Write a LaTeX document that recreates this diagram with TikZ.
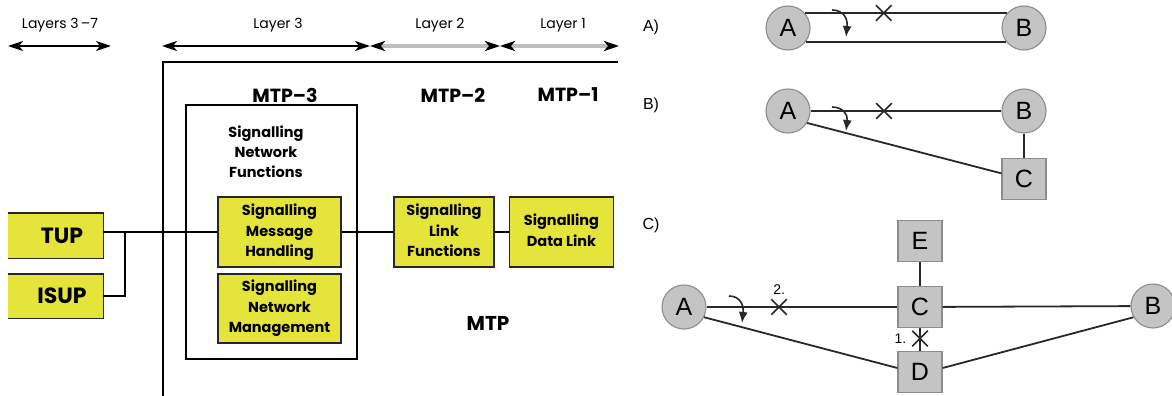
\documentclass[tikz,border=0pt]{standalone}
\usepackage{fontspec}
\setmainfont{Liberation Sans}
\newfontfamily\pop{Poppins}
\usetikzlibrary{arrows.meta,shapes.misc,calc}
\definecolor{sigyellow}{RGB}{229,228,58}
\definecolor{nodegray}{RGB}{196,196,196}
\definecolor{nodeedge}{RGB}{140,140,140}
\definecolor{laygray}{RGB}{190,190,190}
\definecolor{linedark}{RGB}{40,40,40}
\begin{document}
\begin{tikzpicture}[x=1pt,y=-1pt,
  ybox/.style={draw=black!85,line width=1.4pt,fill=sigyellow,inner sep=0pt,align=center,
    font=\pop\bfseries\fontsize{14.5}{20.5}\selectfont},
  yfill/.style={fill=sigyellow,inner sep=0pt,align=center,
    font=\pop\bfseries\fontsize{22}{22}\selectfont},
  ttl/.style={font=\pop\bfseries\fontsize{19}{20}\selectfont,inner sep=0pt},
  laytxt/.style={font=\pop\fontsize{14}{15}\selectfont,inner sep=0pt},
  sigtxt/.style={font=\pop\bfseries\fontsize{14.5}{20}\selectfont,align=center,inner sep=0pt},
  tipb/.tip={Stealth[length=15pt,width=10pt,inset=4pt,color=black]},
  layblack/.style={draw=black,line width=1.5pt,tipb-tipb},
  laylight/.style={draw=laygray,line width=4pt,tipb-tipb},
  frame/.style={draw=black,line width=1.8pt},
  wire/.style={draw=black,line width=1.5pt},
  circ/.style={circle,draw=nodeedge,line width=1.1pt,fill=nodegray,minimum size=44pt,inner sep=0pt,
    font=\fontsize{25}{25}\selectfont},
  sq/.style={rectangle,draw=nodeedge,line width=1.1pt,fill=nodegray,minimum width=44pt,minimum height=41pt,inner sep=0pt,
    font=\fontsize{25}{25}\selectfont},
  conn/.style={draw=linedark,line width=1.8pt},
  crossmark/.style={cross out,draw=linedark,line width=1.6pt,minimum size=14pt,inner sep=0pt},
  lbl/.style={font=\fontsize{16}{18}\selectfont,inner sep=0pt},
  numlbl/.style={font=\fontsize{14}{16}\selectfont,inner sep=0pt},
  turn/.style={draw=linedark,line width=1.6pt,-{Latex[length=11pt,width=9pt]}}
]
\useasboundingbox (0,0) rectangle (1172,396);

% ---------------- left panel ----------------
% layer arrows
\coordinate (l7a) at (8,46);   \coordinate (l7b) at (111,46);
\coordinate (l3a) at (162,46); \coordinate (l3b) at (370,46);
\coordinate (l2a) at (370,46); \coordinate (l2b) at (500,46);
\coordinate (l1a) at (500,46); \coordinate (l1b) at (619,46);
\draw[laylight] (l2a) -- (l2b);
\draw[laylight] (l1a) -- (l1b);
\draw[layblack] (l7a) -- (l7b);
\draw[layblack] (l3a) -- (l3b);
\node[laytxt] (t7) at (60,25) {Layers 3\,–7};
\node[laytxt] (t3) at (278,25) {Layer 3};
\node[laytxt] (t2) at (440,25) {Layer 2};
\node[laytxt] (t1) at (563,25) {Layer 1};

% frame
\coordinate (fb) at (163,397);
\coordinate (fc) at (163,62);
\coordinate (fr) at (618,62);
\draw[frame] (fb) -- (fc) -- (fr);

\node[ttl] (m3) at (285,95) {MTP–3};
\node[ttl] (m2) at (453,95) {MTP–2};
\node[ttl] (m1) at (568,95) {MTP–1};

% MTP-3 container
\node[draw=black,line width=1.4pt,minimum width=171pt,minimum height=254pt,inner sep=0pt] (box3) at (271.5,232) {};
\node[sigtxt] (snf) at (266,152) {Signalling\\Network\\Functions};

% yellow boxes
\node[ybox,minimum width=123pt,minimum height=70pt] (smh) at (279.5,232) {\raisebox{-3pt}{\begin{tabular}{@{}c@{}}Signalling\\Message\\Handling\end{tabular}}};
\node[ybox,minimum width=123pt,minimum height=69pt] (snm) at (279.5,308.5) {Signalling\\Network\\Management};
\node[ybox,minimum width=100pt,minimum height=70pt] (slf) at (444,232) {\raisebox{-2pt}{\begin{tabular}{@{}c@{}}Signalling\\Link\\Functions\end{tabular}}};
\node[ybox,minimum width=104pt,minimum height=70pt] (sdl) at (561.5,232) {\raisebox{4pt}{\begin{tabular}{@{}c@{}}Signalling\\Data Link\end{tabular}}};

\node[yfill,minimum width=95pt,minimum height=45pt] (tup) at (55.5,235.5) {\hspace*{13pt}TUP};
\node[yfill,minimum width=95pt,minimum height=44pt] (isup) at (55.5,296) {\hspace*{13pt}ISUP};
\draw[draw=black!85,line width=1.4pt] (tup.north west) -- (tup.north east) -- (tup.south east) -- (tup.south west);
\draw[draw=black!85,line width=1.4pt] (isup.north west) -- (isup.north east) -- (isup.south east) -- (isup.south west);

\node[ttl,font=\pop\bfseries\fontsize{20}{20}\selectfont] (mtp) at (488,323) {MTP};

% wires
\coordinate (j) at (125,232);
\draw[wire] (smh.west -| tup.east) -- (smh.west);
\draw[wire] (isup.east) -| (j);
\draw[wire] (smh.east) -- (slf.west);
\draw[wire] (slf.east) -- (sdl.west);

% ---------------- right panel ----------------
\node[lbl] (la) at (651,27) {A)};
\node[lbl] (lb) at (651,105) {B)};
\node[lbl] (lc) at (651,225) {C)};

% A)
\node[circ] (a1) at (788,28) {A};
\node[circ] (b1) at (1024,28) {B};
\draw[conn] (a1.42) -- node[crossmark,pos=0.39]{} (b1.138);
\draw[conn] (a1.-38) -- (b1.-142);
\draw[turn] (832,10) .. controls (843,10) and (848,18) .. (846,37);

% B)
\node[circ] (a2) at (788,111) {A};
\node[circ] (b2) at (1024,111) {B};
\node[sq] (c2) at (1024,179) {C};
\draw[conn] (a2) -- node[crossmark,pos=0.385]{} (b2);
\draw[conn] (a2.-32) -- (c2.166);
\draw[conn] (b2) -- (c2);
\draw[turn] (832,107) .. controls (843,107) and (848,115) .. (846,131);

% C)
\node[circ] (a3) at (684,307) {A};
\node[sq] (e3) at (920,241) {E};
\node[sq] (c3) at (920,307) {C};
\node[sq] (d3) at (920,372) {D};
\node[circ] (b3) at (1153,306) {B};
\draw[conn] (a3) -- node[crossmark,pos=0.38,label={[numlbl,label distance=4pt]above:2.}]{} (c3);
\draw[conn] (c3) -- (b3);
\draw[conn] (e3) -- (c3);
\draw[conn] (c3) -- node[crossmark,pos=0.46,label={[numlbl,label distance=5pt]left:1.}]{} (d3);
\draw[conn] (a3.-27) -- (d3.170);
\draw[conn] (d3.10) -- (b3.-150);
\draw[turn] (729,296) .. controls (740,296) and (744,305) .. (742,323);
\end{tikzpicture}
\end{document}
